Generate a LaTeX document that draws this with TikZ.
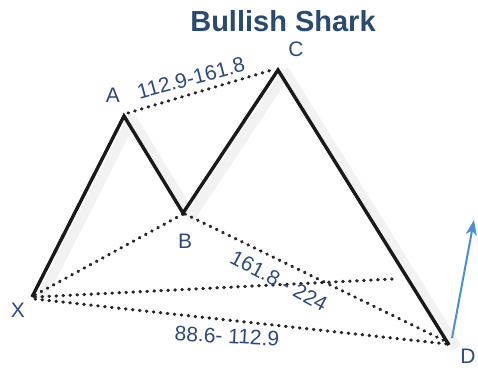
\documentclass[tikz,border=0pt]{standalone}
\usepackage{fontspec}
\setmainfont{Liberation Sans}
\usetikzlibrary{arrows.meta}
\definecolor{labelblue}{HTML}{2F4A7A}
\definecolor{titleblue}{HTML}{2A4A70}
\definecolor{arrowblue}{HTML}{4A8FD4}

\begin{document}
\begin{tikzpicture}[x=1pt,y=-1pt,>={Stealth[length=15pt,width=11pt,inset=4pt]},
  leg/.style={line width=3.4pt,line join=miter,black!90},
  legshadow/.style={line width=10pt,line join=round,black!5},
  ratio/.style={line width=3.2pt,line cap=round,dash pattern=on 0.6pt off 6.4pt,black!85},
  pt/.style={text=labelblue,font=\fontsize{21}{22}\selectfont,inner sep=0pt},
  fib/.style={text=labelblue,font=\fontsize{21}{22}\selectfont,inner sep=0pt}]
\useasboundingbox (0,0) rectangle (478,372);

\coordinate (X) at (32,297);
\coordinate (A) at (124,116);
\coordinate (B) at (183,213);
\coordinate (C) at (278,70);
\coordinate (D) at (449,345);
\coordinate (xend) at (393,279);
\coordinate (up) at (474,220);

\node[font=\fontsize{29}{30}\selectfont\bfseries,text=titleblue] (title) at (283,21) {Bullish Shark};

\draw[legshadow] ([shift={(8,3)}]X) -- ([shift={(8,3)}]A) -- ([shift={(8,3)}]B)
  -- ([shift={(8,3)}]C) -- ([shift={(8,3)}]D);

\draw[ratio] ([shift={(4,-3)}]A) -- ([shift={(-6,0)}]C);
\draw[ratio] ([shift={(3,-2)}]X) -- ([shift={(0,1)}]B);
\draw[ratio] ([shift={(3,0)}]X) -- (xend);
\draw[ratio] ([shift={(3,2)}]X) -- ([shift={(-2,-1)}]D);
\draw[ratio] ([shift={(2,1)}]B) -- ([shift={(-2,-3)}]D);

\draw[leg] (X) -- (A) -- (B) -- (C) -- (D);

\draw[->,arrowblue,line width=2pt] ([shift={(3,-7)}]D) -- (up);

\node[pt] (lx) at (18,310) {X};
\node[pt] (la) at (113,95) {A};
\node[pt] (lb) at (185,241) {B};
\node[pt] (lc) at (296,49) {C};
\node[pt] (ld) at (468,356) {D};

\node[fib,rotate=15] (ac) at (191,78) {112.9-161.8};
\node[fib,rotate=-28] (bd) at (279,281) {161.8 - 224};
\node[fib,rotate=-3] (xd) at (227,336) {88.6- 112.9};
\end{tikzpicture}
\end{document}
